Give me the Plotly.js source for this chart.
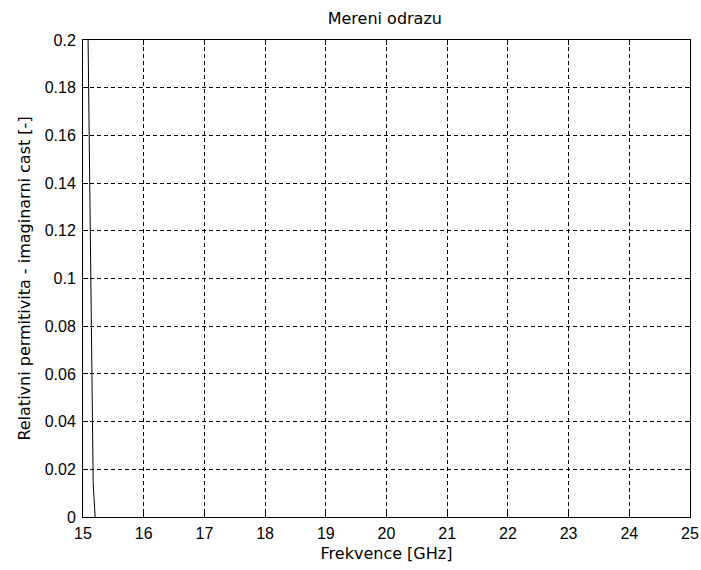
<!DOCTYPE html>
<html>
<head>
<meta charset="utf-8">
<script src="https://cdn.plot.ly/plotly-3.0.1.min.js"></script>
<style>
html,body{margin:0;padding:0;background:#fff;}
#chart{width:701px;height:570px;}
</style>
</head>
<body>
<div id="chart"></div>
<script>
// Data (values above 0.2 / below 0 are clipped by the axes)
var freqGHz = [15.07, 15.085, 15.1, 15.137, 15.152, 15.168, 15.2, 15.215];
var epsImag = [0.23, 0.2, 0.166, 0.092, 0.052, 0.014, 0.0, -0.01];

var xTickVals = [15, 16, 17, 18, 19, 20, 21, 22, 23, 24, 25];
var xTickText = ["15", "16", "17", "18", "19", "20", "21", "22", "23", "24", "25"];
var yTickVals = [0, 0.02, 0.04, 0.06, 0.08, 0.1, 0.12, 0.14, 0.16, 0.18, 0.2];
var yTickText = ["0", "0.02", "0.04", "0.06", "0.08", "0.1", "0.12", "0.14", "0.16", "0.18", "0.2"];

var titleText = "Mereni odrazu";
var xTitle = "Frekvence [GHz]";
var yTitle = "Relativni permitivita - imaginarni cast [-]";

var tickFont = {family: "Liberation Sans, Arial, sans-serif", size: 16, color: "#000"};
var titleFont = {family: "DejaVu Sans, sans-serif", size: 16, color: "#000"};

var trace = {
  x: freqGHz, y: epsImag, type: "scatter", mode: "lines",
  line: {color: "#000", width: 1}, hoverinfo: "skip"
};

var axisCommon = {
  showline: true, linecolor: "#000", linewidth: 1, mirror: "ticks",
  ticks: "inside", ticklen: 5, tickcolor: "#000", tickwidth: 1,
  showgrid: true, gridcolor: "#000", gridwidth: 1, griddash: "4px,3px",
  zeroline: false, tickfont: tickFont, fixedrange: true
};

var layout = {
  width: 701, height: 570,
  paper_bgcolor: "#fff", plot_bgcolor: "#fff",
  margin: {l: 83, r: 11, t: 40, b: 53},
  showlegend: false,
  font: tickFont,
  title: {text: titleText, font: titleFont, xref: "container", x: 0.549, xanchor: "center",
          yref: "container", y: 0.967, yanchor: "middle"},
  xaxis: Object.assign({}, axisCommon, {
    range: [15, 25], tickmode: "array", tickvals: xTickVals, ticktext: xTickText,
    ticklabelstandoff: 2,
    title: {text: xTitle, font: titleFont, standoff: 6}
  }),
  yaxis: Object.assign({}, axisCommon, {
    range: [0, 0.2], tickmode: "array", tickvals: yTickVals, ticktext: yTickText,
    ticklabelstandoff: 3,
    title: {text: yTitle, font: titleFont, standoff: 10}
  })
};

Plotly.newPlot("chart", [trace], layout, {staticPlot: true, displayModeBar: false});
</script>
</body>
</html>
